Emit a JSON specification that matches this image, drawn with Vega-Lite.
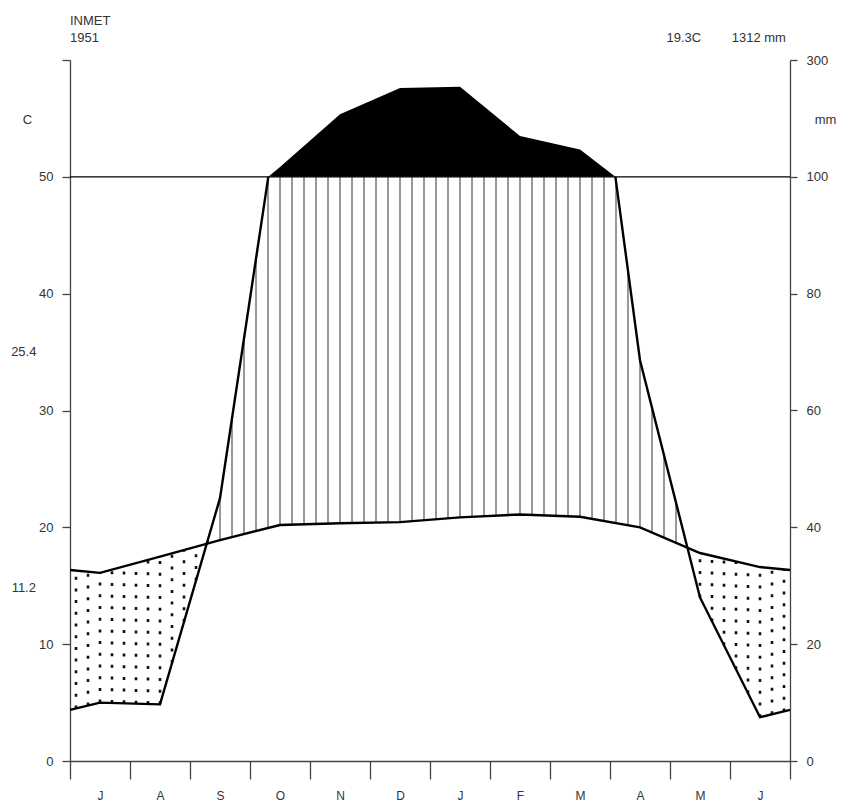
{
  "$schema": "https://vega.github.io/schema/vega-lite/v6.json",
  "width": 720,
  "height": 701,
  "autosize": {"type": "none"},
  "padding": {"left": 70, "top": 60, "right": 51, "bottom": 44},
  "background": "white",
  "config": {
    "view": {"stroke": null},
    "font": "Liberation Sans",
    "axis": {"domainColor": "#444", "tickColor": "#444", "labelColor": "#333", "labelFont": "Liberation Sans", "labelFontSize": 13, "titleFont": "Liberation Sans", "titleColor": "#333", "titleFontSize": 13, "titleFontWeight": "normal", "domainWidth": 1.3, "tickWidth": 1.3, "grid": false}
  },
  "datasets": {
    "temp": [
      {"m": 0, "t": 16.35}, {"m": 0.5, "t": 16.1}, {"m": 1.5, "t": 17.5}, {"m": 2.5, "t": 18.9},
      {"m": 3.5, "t": 20.2}, {"m": 4.5, "t": 20.35}, {"m": 5.5, "t": 20.45}, {"m": 6.5, "t": 20.85},
      {"m": 7.5, "t": 21.1}, {"m": 8.5, "t": 20.9}, {"m": 9.5, "t": 20.0}, {"m": 10.5, "t": 17.8},
      {"m": 11.5, "t": 16.6}, {"m": 12, "t": 16.35}
    ],
    "prec": [
      {"m": 0, "p": 8.75, "seg": "a"}, {"m": 0.5, "p": 10, "seg": "a"}, {"m": 1.5, "p": 9.7, "seg": "a"},
      {"m": 2.5, "p": 45, "seg": "a"}, {"m": 3.305, "p": 100, "seg": "a"},
      {"m": 9.09, "p": 100, "seg": "b"}, {"m": 9.5, "p": 68.6, "seg": "b"}, {"m": 10.5, "p": 28, "seg": "b"},
      {"m": 11.5, "p": 7.5, "seg": "b"}, {"m": 12, "p": 8.75, "seg": "b"}
    ],
    "wet": [
      {"m": 3.305, "p": 100}, {"m": 3.5, "p": 117}, {"m": 4.5, "p": 207}, {"m": 5.5, "p": 252},
      {"m": 6.5, "p": 254}, {"m": 7.5, "p": 170}, {"m": 8.5, "p": 147}, {"m": 9.09, "p": 100}
    ],
    "hatch": [
      {"m": 2.3, "lo": 18.62, "hi": 18.97}, {"m": 2.5, "lo": 18.9, "hi": 22.5}, {"m": 2.7, "lo": 19.16, "hi": 29.3},
      {"m": 2.9, "lo": 19.42, "hi": 36.1}, {"m": 3.1, "lo": 19.68, "hi": 42.9}, {"m": 3.3, "lo": 19.94, "hi": 49.7},
      {"m": 3.5, "lo": 20.2, "hi": 50}, {"m": 3.7, "lo": 20.23, "hi": 50}, {"m": 3.9, "lo": 20.26, "hi": 50},
      {"m": 4.1, "lo": 20.29, "hi": 50}, {"m": 4.3, "lo": 20.32, "hi": 50}, {"m": 4.5, "lo": 20.35, "hi": 50},
      {"m": 4.7, "lo": 20.37, "hi": 50}, {"m": 4.9, "lo": 20.39, "hi": 50}, {"m": 5.1, "lo": 20.41, "hi": 50},
      {"m": 5.3, "lo": 20.43, "hi": 50}, {"m": 5.5, "lo": 20.45, "hi": 50}, {"m": 5.7, "lo": 20.53, "hi": 50},
      {"m": 5.9, "lo": 20.61, "hi": 50}, {"m": 6.1, "lo": 20.69, "hi": 50}, {"m": 6.3, "lo": 20.77, "hi": 50},
      {"m": 6.5, "lo": 20.85, "hi": 50}, {"m": 6.7, "lo": 20.9, "hi": 50}, {"m": 6.9, "lo": 20.95, "hi": 50},
      {"m": 7.1, "lo": 21.0, "hi": 50}, {"m": 7.3, "lo": 21.05, "hi": 50}, {"m": 7.5, "lo": 21.1, "hi": 50},
      {"m": 7.7, "lo": 21.06, "hi": 50}, {"m": 7.9, "lo": 21.02, "hi": 50}, {"m": 8.1, "lo": 20.98, "hi": 50},
      {"m": 8.3, "lo": 20.94, "hi": 50}, {"m": 8.5, "lo": 20.9, "hi": 50}, {"m": 8.7, "lo": 20.72, "hi": 50},
      {"m": 8.9, "lo": 20.54, "hi": 50}, {"m": 9.1, "lo": 20.36, "hi": 50}, {"m": 9.3, "lo": 20.18, "hi": 42.1},
      {"m": 9.5, "lo": 20.0, "hi": 34.3}, {"m": 9.7, "lo": 19.56, "hi": 30.24}, {"m": 9.9, "lo": 19.12, "hi": 26.18},
      {"m": 10.1, "lo": 18.68, "hi": 22.12}
    ],
    "dots": [
      {"m": 0.1, "lo": 4.5, "hi": 16.3}, {"m": 0.3, "lo": 4.75, "hi": 16.2}, {"m": 0.5, "lo": 5.0, "hi": 16.1},
      {"m": 0.7, "lo": 4.97, "hi": 16.38}, {"m": 0.9, "lo": 4.94, "hi": 16.66}, {"m": 1.1, "lo": 4.91, "hi": 16.94},
      {"m": 1.3, "lo": 4.88, "hi": 17.22}, {"m": 1.5, "lo": 4.85, "hi": 17.5}, {"m": 1.7, "lo": 8.38, "hi": 17.78},
      {"m": 1.9, "lo": 11.91, "hi": 18.06}, {"m": 2.1, "lo": 15.44, "hi": 18.34},
      {"m": 10.5, "lo": 14.0, "hi": 17.8}, {"m": 10.7, "lo": 11.95, "hi": 17.56}, {"m": 10.9, "lo": 9.9, "hi": 17.32},
      {"m": 11.1, "lo": 7.85, "hi": 17.08}, {"m": 11.3, "lo": 5.8, "hi": 16.84}, {"m": 11.5, "lo": 3.75, "hi": 16.6},
      {"m": 11.7, "lo": 4.0, "hi": 16.5}, {"m": 11.9, "lo": 4.24, "hi": 16.4}
    ],
    "ref": [{"p": 100}]
  },
  "layer": [
    {
      "layer": [
        {
          "data": {"name": "hatch"},
          "mark": {"type": "rule", "color": "#333", "strokeWidth": 1},
          "encoding": {
            "x": {"field": "m", "type": "quantitative", "scale": {"domain": [0, 12], "nice": false, "zero": false},
              "axis": {"values": [0, 1, 2, 3, 4, 5, 6, 7, 8, 9, 10, 11, 12], "labelExpr": "['J','A','S','O','N','D','J','F','M','A','M','J',''][datum.value]", "labelOffset": 30, "tickSize": 18, "labelPadding": 11, "title": null, "labelFlush": false, "labelOverlap": false, "labelBound": false, "labelAlign": "center", "labelFontSize": 12}},
            "y": {"field": "lo", "type": "quantitative", "scale": {"domain": [0, 60], "nice": false, "zero": false},
              "axis": {"orient": "left", "values": [0, 10, 20, 30, 40, 50, 60], "labelExpr": "datum.value == 60 ? '' : datum.label", "tickSize": 8, "labelPadding": 9, "title": "C", "titleAngle": 0, "titleX": -43, "titleY": 59, "titleAlign": "center", "titleBaseline": "middle"}},
            "y2": {"field": "hi"}
          }
        },
        {
          "data": {"name": "dots"},
          "mark": {"type": "rule", "color": "#111", "strokeWidth": 2.6, "strokeDash": [3, 8.7], "strokeCap": "butt"},
          "encoding": {
            "x": {"field": "m", "type": "quantitative"},
            "y": {"field": "lo", "type": "quantitative"},
            "y2": {"field": "hi"}
          }
        },
        {
          "data": {"name": "temp"},
          "mark": {"type": "line", "color": "black", "strokeWidth": 2.4},
          "encoding": {
            "x": {"field": "m", "type": "quantitative"},
            "y": {"field": "t", "type": "quantitative"}
          }
        },
        {
          "data": {"values": [{"label": "INMET"}]},
          "mark": {"type": "text", "fontSize": 13, "color": "#333", "align": "left", "baseline": "middle"},
          "encoding": {"x": {"datum": 0}, "y": {"datum": 63.3}, "text": {"field": "label"}}
        },
        {
          "data": {"values": [{"label": "1951"}]},
          "mark": {"type": "text", "fontSize": 13, "color": "#333", "align": "left", "baseline": "middle"},
          "encoding": {"x": {"datum": 0}, "y": {"datum": 61.88}, "text": {"field": "label"}}
        },
        {
          "data": {"values": [{"label": "19.3C"}]},
          "mark": {"type": "text", "fontSize": 13, "color": "#333", "align": "center", "baseline": "middle"},
          "encoding": {"x": {"datum": 10.23}, "y": {"datum": 61.88}, "text": {"field": "label"}}
        },
        {
          "data": {"values": [{"label": "1312 mm"}]},
          "mark": {"type": "text", "fontSize": 13, "color": "#333", "align": "center", "baseline": "middle"},
          "encoding": {"x": {"datum": 11.48}, "y": {"datum": 61.88}, "text": {"field": "label"}}
        },
        {
          "data": {"values": [{"label": "25.4"}]},
          "mark": {"type": "text", "fontSize": 13, "color": "#333", "align": "center", "baseline": "middle"},
          "encoding": {"x": {"datum": -0.77}, "y": {"datum": 35.0}, "text": {"field": "label"}}
        },
        {
          "data": {"values": [{"label": "11.2"}]},
          "mark": {"type": "text", "fontSize": 13, "color": "#333", "align": "center", "baseline": "middle"},
          "encoding": {"x": {"datum": -0.77}, "y": {"datum": 14.8}, "text": {"field": "label"}}
        }
      ]
    },
    {
      "layer": [
        {
          "data": {"name": "wet"},
          "mark": {"type": "area", "color": "black", "opacity": 1},
          "encoding": {
            "x": {"field": "m", "type": "quantitative", "scale": {"domain": [0, 12], "nice": false, "zero": false}},
            "y": {"field": "p", "type": "quantitative", "scale": {"domain": [0, 100, 300], "range": [701, 116.83, 0], "nice": false, "zero": false},
              "axis": {"orient": "right", "values": [0, 20, 40, 60, 80, 100, 300], "tickSize": 7, "labelPadding": 9, "title": "mm", "titleAngle": 0, "titleX": 35, "titleY": 59, "titleAlign": "center", "titleBaseline": "middle"}},
            "y2": {"datum": 100}
          }
        },
        {
          "data": {"name": "ref"},
          "mark": {"type": "rule", "color": "black", "strokeWidth": 1.2},
          "encoding": {"y": {"field": "p", "type": "quantitative"}}
        },
        {
          "data": {"name": "prec"},
          "mark": {"type": "line", "color": "black", "strokeWidth": 2.4},
          "encoding": {
            "x": {"field": "m", "type": "quantitative"},
            "y": {"field": "p", "type": "quantitative"},
            "detail": {"field": "seg"}
          }
        }
      ]
    }
  ],
  "resolve": {"scale": {"y": "independent"}}
}
